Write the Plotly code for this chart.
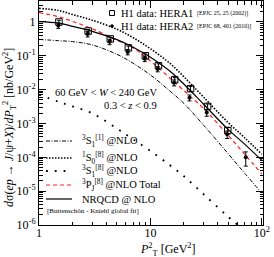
import plotly.graph_objects as go

# ---- theory curves ----
pt2_grid = [1, 1.5, 2, 3, 5, 7, 10, 15, 20, 30, 50, 70, 100]
nrqcd_total = [1.03, 0.93, 0.74, 0.53, 0.30, 0.18, 0.091, 0.035, 0.0144, 0.0037, 6.6e-4, 2.46e-4, 8.1e-5]
s1s0_8 = [2.53, 2.18, 1.66, 1.13, 0.61, 0.343, 0.162, 0.0594, 0.0239, 6.0e-3, 1.05e-3, 3.8e-4, 1.23e-4]
p3pj_8 = [1.88, 1.43, 1.04, 0.63, 0.29, 0.172, 0.070, 0.0218, 0.0093, 2.77e-3, 4.4e-4, 1.24e-4, 3.2e-5]
s3s1_1 = [0.305, 0.28, 0.263, 0.21, 0.111, 0.060, 0.0272, 0.0090, 3.9e-3, 8.9e-4, 1.26e-4, 3.4e-5, 8.7e-6]
s3s1_8 = [7.1e-3, 4.4e-3, 3.2e-3, 2.0e-3, 7.1e-4, 3.4e-4, 1.55e-4, 5.8e-5, 2.76e-5, 8.1e-6, 1.73e-6, 6.6e-7, 2e-7]

# ---- data ----
hera1_pt2 = [1.51, 2.76, 4.36, 6.34, 9.0, 11.8, 16.5, 22.9, 32.6, 49.4]
hera1_val = [1.0, 0.54, 0.316, 0.172, 0.10, 0.051, 0.0197, 0.0107, 0.0032, 6.2e-4]
hera1_relerr = [0.12, 0.12, 0.12, 0.13, 0.13, 0.14, 0.15, 0.16, 0.18, 0.22]

hera2_pt2 = [1.49, 2.73, 4.3, 6.25, 8.9, 11.6, 16.3, 22.4, 32.0, 48.8, 71.7]
hera2_val = [0.79, 0.44, 0.26, 0.13, 0.082, 0.041, 0.0161, 0.0058, 0.0021, 4.8e-4, 1.0e-4]
hera2_relerr = [0.18, 0.18, 0.18, 0.18, 0.18, 0.18, 0.2, 0.2, 0.22, 0.25, 0.45]

x_tickvals = [1, 10, 100]
x_ticktext = ["1", "10", "10<sup>2</sup>"]
y_tickvals = [1e-6, 1e-5, 1e-4, 1e-3, 1e-2, 1e-1, 1]
y_ticktext = ["10<sup>-6</sup>", "10<sup>-5</sup>", "10<sup>-4</sup>", "10<sup>-3</sup>",
              "10<sup>-2</sup>", "10<sup>-1</sup>", "1"]

legend_labels = [
    "<sup>3</sup>S<sub>1</sub><sup>[1]</sup> @NLO",
    "<sup>1</sup>S<sub>0</sub><sup>[8]</sup> @NLO",
    "<sup>3</sup>S<sub>1</sub><sup>[8]</sup> @NLO",
    "<sup>3</sup>P<sub>J</sub><sup>[8]</sup> @NLO Total",
    "NRQCD @ NLO",
]

FONT = "Liberation Serif"

fig = go.Figure()

curve_styles = [
    (s3s1_1, dict(color="black", width=1, dash="4px,1.5px,1px,1.5px")),
    (s1s0_8, dict(color="black", width=1.6, dash="1.5px,1.5px")),
    (s3s1_8, dict(color="black", width=1.8, dash="1.8px,7px")),
    (p3pj_8, dict(color="#ff2020", width=1.2, dash="4px,3px")),
    (nrqcd_total, dict(color="black", width=1.2)),
]
for vals, ln in curve_styles:
    fig.add_trace(go.Scatter(x=pt2_grid, y=vals, mode="lines", line=dict(shape="spline", **ln),
                             showlegend=False, hoverinfo="skip"))

fig.add_trace(go.Scatter(
    x=hera2_pt2, y=hera2_val, mode="markers",
    marker=dict(symbol="circle", size=4, color="black"),
    error_y=dict(type="data", array=[v * e for v, e in zip(hera2_val, hera2_relerr)],
                 color="black", thickness=1, width=2),
    showlegend=False))
fig.add_trace(go.Scatter(
    x=hera1_pt2, y=hera1_val, mode="markers",
    marker=dict(symbol="square-open", size=6.5, color="black", line=dict(width=1)),
    error_y=dict(type="data", array=[v * e for v, e in zip(hera1_val, hera1_relerr)],
                 color="black", thickness=1, width=2),
    showlegend=False))

# plot area: x 39..263 px, y 1..225 px
def px(x):
    return (x - 39) / 224.0

def py(y):
    return (225 - y) / 224.0

annotations = []
shapes = []

# lower-left legend
leg_y = [141, 158, 171, 185, 199]
for (vals, ln), lab, yy in zip(curve_styles, legend_labels, leg_y):
    shapes.append(dict(type="line", xref="paper", yref="paper", x0=px(46), x1=px(72),
                       y0=py(yy), y1=py(yy), line=ln))
    annotations.append(dict(xref="paper", yref="paper", x=px(80), y=py(yy), text=lab,
                            showarrow=False, xanchor="left", yanchor="middle",
                            font=dict(family=FONT, size=10.5, color="black")))
annotations.append(dict(xref="paper", yref="paper", x=px(45), y=py(211),
                        text="[Buttenschön - Kniehl global fit]", showarrow=False,
                        xanchor="left", yanchor="middle",
                        font=dict(family=FONT, size=7, color="black")))

# top-right data legend
shapes.append(dict(type="rect", xref="paper", yref="paper", x0=px(109.5), x1=px(114.5),
                   y0=py(15.5), y1=py(10.5), line=dict(color="black", width=1)))
shapes.append(dict(type="circle", xref="paper", yref="paper", x0=px(110.5), x1=px(113.5),
                   y0=py(27.5), y1=py(24.5), line=dict(color="black", width=0.5),
                   fillcolor="black"))
for txt, ref, yy in [("H1 data: HERA1", "[EPJC 25, 25 (2002)]", 13),
                     ("H1 data: HERA2", "[EPJC 68, 401 (2010)]", 26)]:
    annotations.append(dict(xref="paper", yref="paper", x=px(119), y=py(yy), text=txt,
                            showarrow=False, xanchor="left", yanchor="middle",
                            font=dict(family=FONT, size=10.5, color="black")))
    annotations.append(dict(xref="paper", yref="paper", x=px(195), y=py(yy), text=ref,
                            showarrow=False, xanchor="left", yanchor="middle",
                            font=dict(family=FONT, size=6, color="black")))

# kinematic cuts
annotations.append(dict(xref="paper", yref="paper", x=px(159), y=py(92),
                        text="60 GeV &lt; <i>W</i> &lt; 240 GeV", showarrow=False,
                        xanchor="right", yanchor="middle",
                        font=dict(family=FONT, size=10.5, color="black")))
annotations.append(dict(xref="paper", yref="paper", x=px(159), y=py(105),
                        text="0.3 &lt; <i>z</i> &lt; 0.9", showarrow=False,
                        xanchor="right", yanchor="middle",
                        font=dict(family=FONT, size=10.5, color="black")))

# axis titles
annotations.append(dict(xref="paper", yref="paper", x=px(168), y=py(249),
                        text="<i>P</i><sup>2</sup><sub>T</sub> [GeV<sup>2</sup>]",
                        showarrow=False, xanchor="center", yanchor="middle",
                        font=dict(family=FONT, size=12, color="black")))
annotations.append(dict(xref="paper", yref="paper", x=px(9), y=py(128),
                        text="<i>d</i>σ(<i>ep</i> → <i>J</i>/ψ+<i>X</i>)/<i>dP</i><sub>T</sub><sup>2</sup> [nb/GeV<sup>2</sup>]",
                        showarrow=False, textangle=-90, xanchor="center", yanchor="middle",
                        font=dict(family=FONT, size=12, color="black")))

axis_common = dict(type="log", showgrid=False, zeroline=False, showline=True,
                   linecolor="black", linewidth=1, mirror="allticks",
                   ticks="inside", ticklen=7, tickcolor="black", tickwidth=1,
                   tickmode="array", automargin=False,
                   minor=dict(ticks="inside", ticklen=3.5, tickcolor="black",
                              dtick="D1", showgrid=False),
                   tickfont=dict(family=FONT, size=12, color="black"))

fig.update_layout(
    template="none",
    width=274, height=257,
    margin=dict(l=39, r=11, t=1, b=32, pad=0),
    paper_bgcolor="white", plot_bgcolor="white",
    xaxis=dict(range=[0, 2.01], tickvals=x_tickvals, ticktext=x_ticktext,
               ticklabelstandoff=-3, **axis_common),
    yaxis=dict(range=[-6, 0.62], tickvals=y_tickvals, ticktext=y_ticktext, **axis_common),
    annotations=annotations, shapes=shapes,
)

fig.write_html("out.html", config={"displayModeBar": False},
               post_script="document.body.style.margin='0';document.body.style.padding='0';document.body.style.overflow='hidden';")
